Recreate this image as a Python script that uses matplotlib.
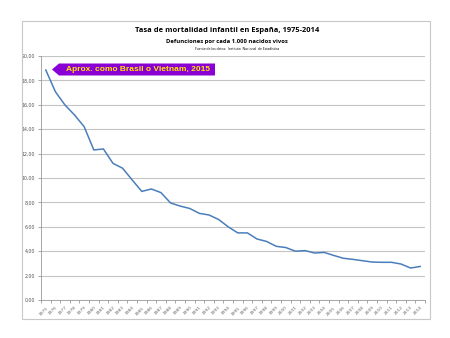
import matplotlib
matplotlib.use("Agg")
import matplotlib.pyplot as plt
from matplotlib.patches import Rectangle, Polygon
from matplotlib.ticker import FuncFormatter

years = list(range(1975, 2015))
rates = [18.85, 17.07, 15.98, 15.16, 14.2, 12.3, 12.38, 11.2, 10.8, 9.84,
         8.9, 9.1, 8.8, 7.95, 7.7, 7.5, 7.1, 6.97, 6.6, 6.0,
         5.5, 5.5, 5.0, 4.8, 4.4, 4.3, 4.0, 4.05, 3.85, 3.9,
         3.65, 3.42, 3.33, 3.22, 3.11, 3.09, 3.09, 2.95, 2.62, 2.75]
yticks = [0, 2, 4, 6, 8, 10, 12, 14, 16, 18, 20]

W, H = 450, 338
fig = plt.figure(figsize=(4.5, 3.38), dpi=100)
fig.patch.set_facecolor("white")

# outer chart frame
fig.patches.append(Rectangle((22 / W, 1 - 319 / H), (430 - 22) / W, (319 - 21) / H,
                             transform=fig.transFigure, fill=False,
                             edgecolor="#c8c8c8", linewidth=0.8))

ax = fig.add_axes([41 / W, 1 - 300 / H, (425 - 41) / W, (300 - 56) / H])
x = list(range(len(years)))
ax.plot(x, rates, color="#4a7ebb", linewidth=1.1, zorder=3)
ax.set_xlim(-0.5, len(years) - 0.5)
ax.set_ylim(0, 20)
ax.set_yticks(yticks)
ax.yaxis.set_major_formatter(FuncFormatter(lambda v, p: f"{v:.2f}".replace(".", ",")))
ax.set_xticks(x)
ax.set_xticklabels([str(y) for y in years], rotation=45, ha="right", fontsize=3.2,
                   color="#666666", rotation_mode="anchor")
ax.set_xticks([i - 0.5 for i in range(len(years) + 1)], minor=True)
ax.tick_params(axis="x", which="major", length=0, pad=4)
ax.tick_params(axis="x", which="minor", length=2.5, color="#999999", width=0.6)
ax.tick_params(axis="y", labelsize=3.4, colors="#555555", length=2.5, width=0.6, pad=1.5)
ax.tick_params(axis="y", color="#999999")
ax.grid(axis="y", color="#c4c4c4", linewidth=0.8)
ax.set_axisbelow(True)
for s in ["top", "right"]:
    ax.spines[s].set_visible(False)
ax.spines["left"].set_color("#999999")
ax.spines["bottom"].set_color("#999999")
ax.spines["left"].set_linewidth(0.6)
ax.spines["bottom"].set_linewidth(0.6)

# titles
fig.text(227 / W, 1 - 31 / H, "Tasa de mortalidad infantil en España, 1975-2014",
         ha="center", va="center", fontsize=5.4, fontweight="bold", family="Open Sans")
fig.text(227 / W, 1 - 41 / H, "Defunciones por cada 1.000 nacidos vivos",
         ha="center", va="center", fontsize=4.2, fontweight="bold", family="Open Sans")
fig.text(237 / W, 1 - 49 / H, "Fuente de los datos:  Instituto  Nacional  de Estadística",
         ha="center", va="center", fontsize=2.4, family="Open Sans")

# annotation arrow box
px = [52, 59, 215, 215, 59]
py = [69.5, 63.5, 63.5, 75.5, 75.5]
fig.patches.append(Polygon([(a / W, 1 - b / H) for a, b in zip(px, py)], closed=True,
                           transform=fig.transFigure, facecolor="#8a00d4",
                           edgecolor="none"))
fig.text(138 / W, 1 - 69.5 / H, "Aprox. como Brasil o Vietnam, 2015", ha="center",
         va="center", fontsize=6.0, fontweight="bold", color="#ffe600",
         family="Liberation Sans")

fig.savefig("out.png", dpi=100, facecolor="white")
